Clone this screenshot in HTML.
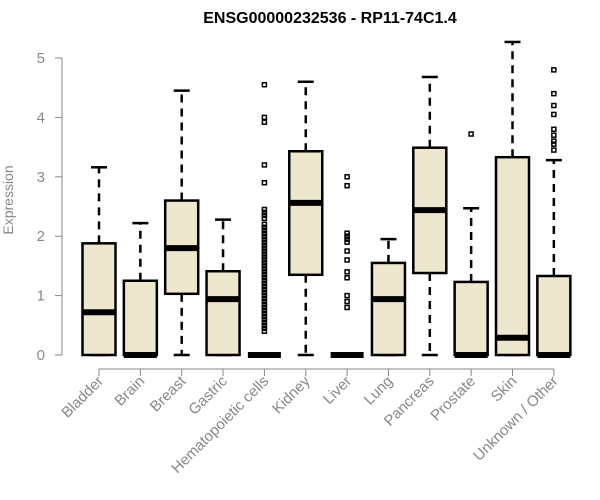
<!DOCTYPE html>
<html><head><meta charset="utf-8"><style>body{margin:0;background:#fff}svg{display:block}</style></head>
<body>
<svg id="c" width="600" height="500" xmlns="http://www.w3.org/2000/svg" font-family="Liberation Sans, Arial, sans-serif">
<text x="330" y="23" text-anchor="middle" font-weight="bold" font-size="16">ENSG00000232536 - RP11-74C1.4</text>
<text transform="translate(13,200) rotate(-90)" text-anchor="middle" font-size="14" fill="#888">Expression</text>
</svg>
<script>
const categories=["Bladder","Brain","Breast","Gastric","Hematopoietic cells","Kidney","Liver","Lung","Pancreas","Prostate","Skin","Unknown / Other"];
const lowWhisker=[0,0,0,0,0,0,0,0,0,0,0,0];
const q1=[0,0,1.03,0,0,1.35,0,0,1.38,0,0,0];
const medians=[0.72,0,1.8,0.94,0,2.56,0,0.94,2.44,0,0.29,0];
const q3=[1.88,1.25,2.6,1.41,0,3.43,0,1.55,3.49,1.23,3.33,1.33];
const highWhisker=[3.16,2.22,4.45,2.28,0,4.6,0,1.95,4.68,2.47,5.27,3.28];
const outliers=[[],[],[],[],[4.55,4.0,3.92,3.2,2.9,2.45,2.4,2.35,2.3,2.2,2.15,2.1,2.05,2.0,1.95,1.9,1.85,1.8,1.75,1.7,1.65,1.6,1.55,1.5,1.45,1.4,1.35,1.3,1.25,1.2,1.15,1.1,1.05,1.0,0.95,0.9,0.85,0.8,0.75,0.7,0.65,0.6,0.55,0.5,0.45,0.4],[],[3.0,2.85,2.05,2.0,1.95,1.9,1.75,1.6,1.4,1.3,1.0,0.9,0.8],[],[],[3.72],[],[3.45,3.55,3.6,3.7,3.8,4.05,4.2,4.4,4.8]];
const yTicks=[0,1,2,3,4,5];
const svg=document.getElementById('c');const NS='http://www.w3.org/2000/svg';
const y=v=>355-v*59.4;const x=i=>99+i*41.35;const hw=16.5;
function mk(t,a,p){const e=document.createElementNS(NS,t);for(const k in a)e.setAttribute(k,a[k]);(p||svg).appendChild(e);return e;}
let g=mk('g',{});


mk('line',{x1:62,x2:62,y1:y(0),y2:y(5),stroke:'#888'},g);
yTicks.forEach(t=>{mk('line',{x1:55,x2:62,y1:y(t),y2:y(t),stroke:'#888'},g);const tx=mk('text',{x:45,y:y(t)+5,'text-anchor':'end','font-size':15,fill:'#888'},g);tx.textContent=t;});
let gx=mk('g',{});


mk('line',{x1:x(0),x2:x(11),y1:369,y2:369,stroke:'#888'},gx);
categories.forEach((c,i)=>{mk('line',{x1:x(i),x2:x(i),y1:369,y2:376,stroke:'#888'},gx);const t=mk('text',{transform:`translate(${x(i)+5},382) rotate(-45)`,'text-anchor':'end','font-size':15,fill:'#888'},gx);t.textContent=c;});
categories.forEach((c,i)=>{
 const b=mk('g',{});
 
 
 const cx=x(i);
 mk('line',{x1:cx,x2:cx,y1:y(q3[i]),y2:y(highWhisker[i]),stroke:'#000','stroke-width':2.5,'stroke-dasharray':'8,6'},b);
 mk('line',{x1:cx,x2:cx,y1:y(q1[i]),y2:y(lowWhisker[i]),stroke:'#000','stroke-width':2.5,'stroke-dasharray':'8,6'},b);
 mk('line',{x1:cx-8,x2:cx+8,y1:y(highWhisker[i]),y2:y(highWhisker[i]),stroke:'#000','stroke-width':2.5},b);
 mk('line',{x1:cx-8,x2:cx+8,y1:y(lowWhisker[i]),y2:y(lowWhisker[i]),stroke:'#000','stroke-width':2.5},b);
 mk('rect',{x:cx-hw,y:y(q3[i]),width:2*hw,height:Math.max(0,y(q1[i])-y(q3[i])),fill:'#ede7cd',stroke:'#000','stroke-width':2.5},b);
 mk('line',{x1:cx-hw,x2:cx+hw,y1:y(medians[i]),y2:y(medians[i]),stroke:'#000','stroke-width':6},b);
 outliers[i].forEach(v=>mk('rect',{x:cx-2,y:y(v)-2,width:4,height:4,fill:'none',stroke:'#000','stroke-width':1.5},b));
});
</script>
</body></html>
